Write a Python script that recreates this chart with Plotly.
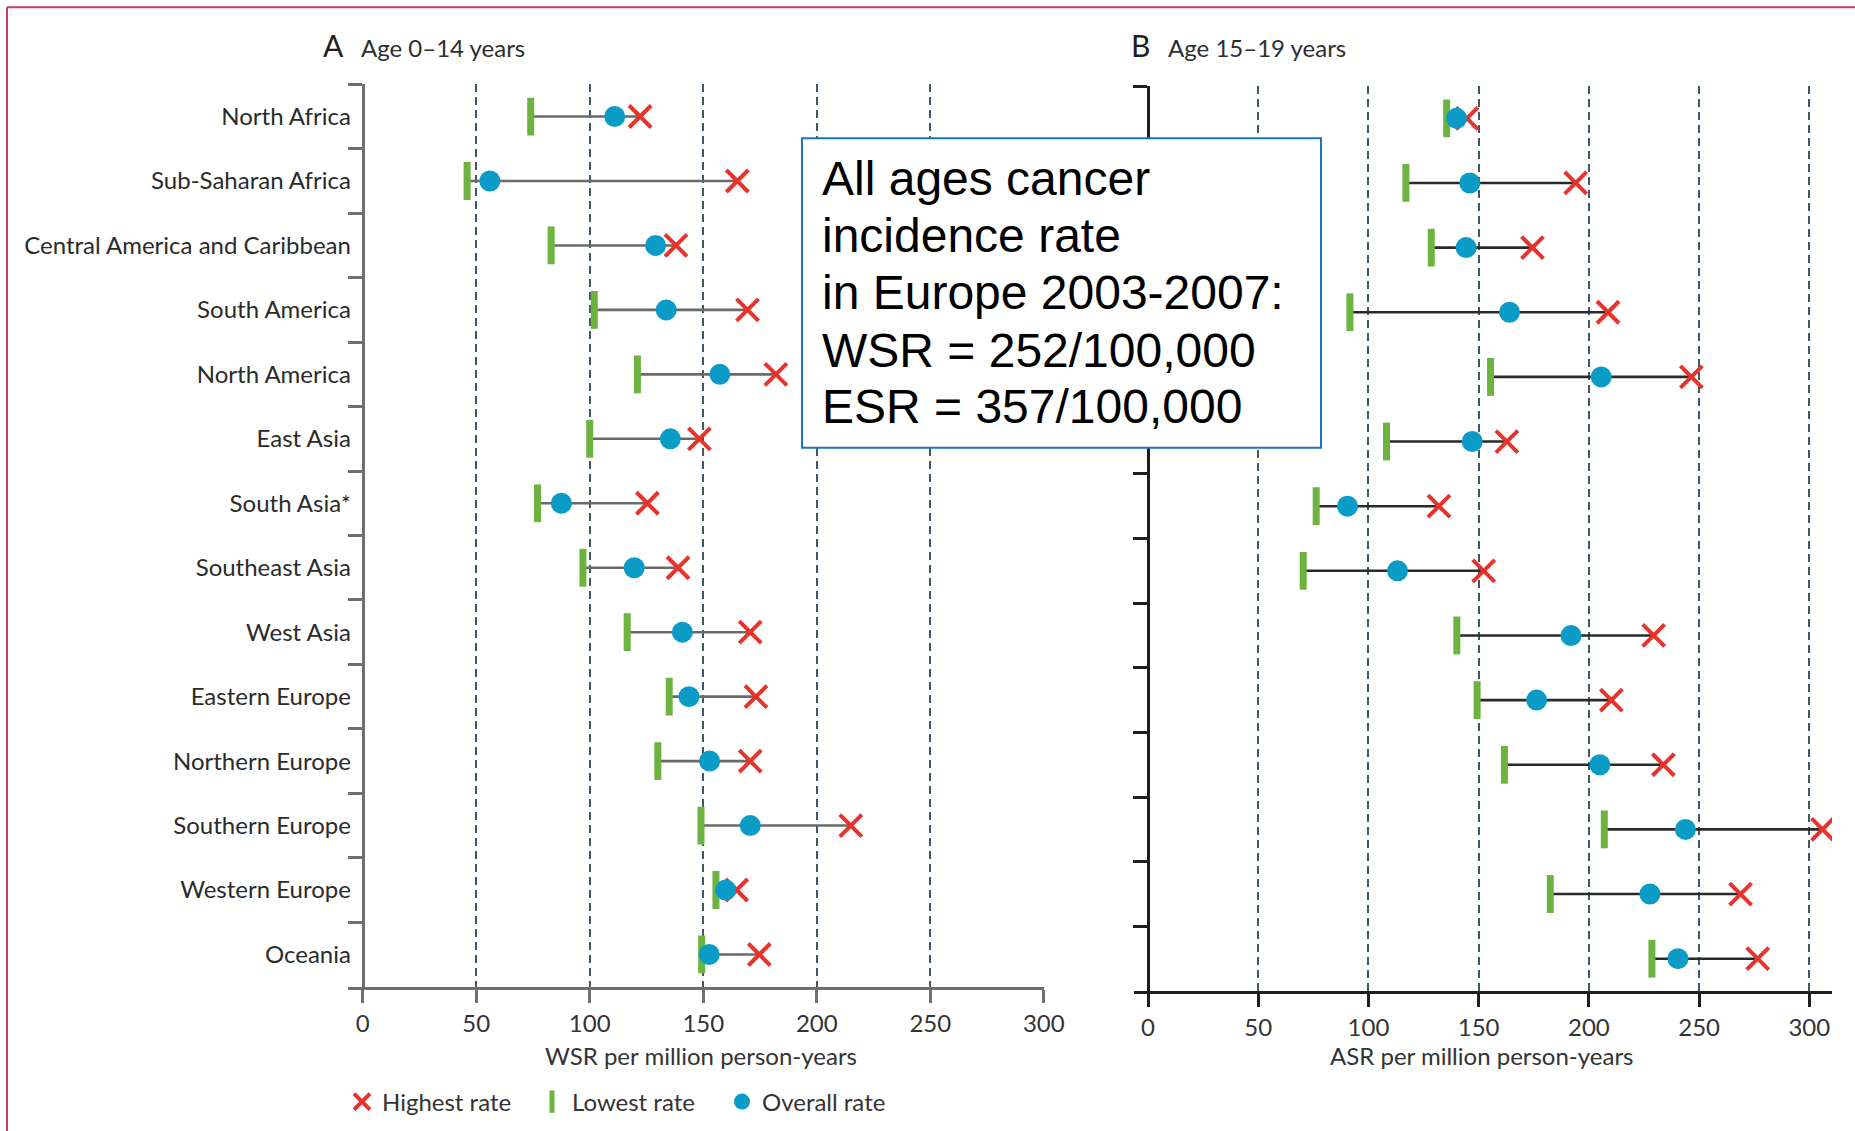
import plotly.graph_objects as go

W, H = 1855, 1131

regions = ["North Africa", "Sub-Saharan Africa", "Central America and Caribbean",
           "South America", "North America", "East Asia", "South Asia*",
           "Southeast Asia", "West Asia", "Eastern Europe", "Northern Europe",
           "Southern Europe", "Western Europe", "Oceania"]

# Panel A: age 0-14 years (WSR per million person-years)
a_lowest = [74, 46, 83, 102, 121, 100, 77, 97, 116.5, 135, 130, 149, 155.6, 149.3]
a_overall = [111, 56, 129, 133.7, 157.3, 135.5, 87.5, 119.6, 140.8, 143.7, 152.8, 170.7, 159.9, 152.6]
a_highest = [122.2, 165, 138, 169.5, 182, 148.3, 125.4, 138.9, 170.7, 173.2, 170.7, 215, 164.7, 174.7]

# Panel B: age 15-19 years (ASR per million person-years)
b_lowest = [135.5, 117, 128.5, 91.6, 155.4, 108.2, 76.3, 70.4, 140.1, 149.3, 161.7, 207, 182.5, 228.6]
b_overall = [140, 146, 144.3, 164, 205.6, 147.1, 90.5, 113.2, 191.9, 176.3, 205, 243.8, 227.7, 240.4]
b_highest = [144.7, 194, 174.4, 208.7, 246.5, 162.8, 132, 152.3, 229.4, 210.2, 233.8, 306, 268.8, 276.6]

x_ticks = [0, 50, 100, 150, 200, 250, 300]

RED = "#e8322b"
GREEN = "#6cb33f"
BLUE = "#0a9cc6"
FONT = "Lato"

fig = go.Figure()


def add_panel(lo, ov, hi, xa, ya, line_col, show):
    xs, ys = [], []
    for r, l, h in zip(regions, lo, hi):
        xs += [l, h, None]
        ys += [r, r, None]
    fig.add_trace(go.Scatter(x=xs, y=ys, mode="lines", xaxis=xa, yaxis=ya,
                             line=dict(color=line_col, width=2.6),
                             showlegend=False, hoverinfo="skip"))
    fig.add_trace(go.Scatter(x=hi, y=regions, mode="markers", xaxis=xa, yaxis=ya,
                             name="Highest rate", legendgroup="hi", showlegend=show,
                             marker=dict(symbol="x-thin", size=22, color=RED,
                                         line=dict(color=RED, width=4))))
    fig.add_trace(go.Scatter(x=lo, y=regions, mode="markers", xaxis=xa, yaxis=ya,
                             name="Lowest rate", legendgroup="lo", showlegend=show,
                             marker=dict(symbol="line-ns", size=27, color=GREEN,
                                         line=dict(color=GREEN, width=7))))
    fig.add_trace(go.Scatter(x=ov, y=regions, mode="markers", xaxis=xa, yaxis=ya,
                             name="Overall rate", legendgroup="ov", showlegend=show,
                             marker=dict(symbol="circle", size=21, color=BLUE,
                                         line=dict(width=0))))


add_panel(a_lowest, a_overall, a_highest, "x", "y", "#6a6a6a", True)
add_panel(b_lowest, b_overall, b_highest, "x2", "y2", "#2a2a2a", False)

GRID = "#3e5866"
A_AX = "#6f6f6f"
B_AX = "#1e1e1e"

xcommon = dict(tickvals=x_ticks, showgrid=True, gridcolor=GRID, griddash="8px,5px",
               gridwidth=2, showline=True, linewidth=3, ticks="outside", ticklen=13,
               tickwidth=2.5, zeroline=False, fixedrange=True, automargin=False,
               tickfont=dict(family=FONT, size=24, color="#333333"))
ycommon = dict(type="category", categoryorder="array", categoryarray=regions,
               range=[len(regions) - 0.5, -0.5], tickson="boundaries", ticks="outside",
               showline=True, linewidth=3, tickwidth=2.5, showgrid=False,
               zeroline=False, anchor="free", fixedrange=True, automargin=False)

a_y0, a_y1 = 84.3, 986.7
b_y0, b_y1 = 86.0, 991.0
a_x0, a_xz, a_x300 = 348.0, 362.7, 1043.8
b_x0, b_xz, b_xend = 1133.7, 1148.0, 1832.0
a_scale = (a_x300 - a_xz) / 300.0
b_scale = (1809.3 - b_xz) / 300.0

fig.update_layout(
    xaxis=dict(domain=[a_x0 / W, a_x300 / W],
               range=[-(a_xz - a_x0) / a_scale, 300], anchor="y",
               linecolor=A_AX, tickcolor=A_AX, **xcommon),
    yaxis=dict(domain=[1 - a_y1 / H, 1 - a_y0 / H], position=a_xz / W,
               linecolor=A_AX, tickcolor=A_AX, ticklen=14, ticklabelstandoff=6,
               tickfont=dict(family=FONT, size=24, color="#2b2b2b"), **ycommon),
    xaxis2=dict(domain=[b_x0 / W, b_xend / W],
                range=[-(b_xz - b_x0) / b_scale, (b_xend - b_xz) / b_scale], anchor="y2",
                linecolor=B_AX, tickcolor=B_AX, **xcommon),
    yaxis2=dict(domain=[1 - b_y1 / H, 1 - b_y0 / H], position=b_xz / W,
                linecolor=B_AX, tickcolor=B_AX, ticklen=14, showticklabels=False,
                **ycommon),
)

annotations = []
# panel titles
annotations.append(dict(xref="paper", yref="paper", x=321 / W, y=1 - 45 / H,
                        xanchor="left", yanchor="middle", showarrow=False,
                        text="<span style='font-size:30px;color:#1e1e1e'>A</span>&nbsp;&nbsp;&nbsp;Age 0–14 years",
                        font=dict(family=FONT, size=24, color="#2e2e2e")))
annotations.append(dict(xref="paper", yref="paper", x=1129 / W, y=1 - 45 / H,
                        xanchor="left", yanchor="middle", showarrow=False,
                        text="<span style='font-size:30px;color:#1e1e1e'>B</span>&nbsp;&nbsp;&nbsp;Age 15–19 years",
                        font=dict(family=FONT, size=24, color="#2e2e2e")))
# axis titles
annotations.append(dict(xref="paper", yref="paper", x=701 / W, y=1 - 1055 / H,
                        xanchor="center", yanchor="middle", showarrow=False,
                        text="WSR per million person-years",
                        font=dict(family=FONT, size=24, color="#333333")))
annotations.append(dict(xref="paper", yref="paper", x=1481 / W, y=1 - 1055 / H,
                        xanchor="center", yanchor="middle", showarrow=False,
                        text="ASR per million person-years",
                        font=dict(family=FONT, size=24, color="#333333")))

box_lines = ["All ages cancer", "incidence rate", "in Europe 2003-2007:",
             "WSR = 252/100,000", "ESR = 357/100,000"]
baselines = [195, 251.7, 309.3, 366.7, 422.7]
BOX_FS = 48
for t, b in zip(box_lines, baselines):
    annotations.append(dict(xref="paper", yref="paper", x=820 / W,
                            y=1 - (b - 0.3465 * BOX_FS) / H,
                            xanchor="left", yanchor="middle", showarrow=False,
                            text=t, font=dict(family="Liberation Sans, Arial", size=BOX_FS,
                                              color="#000000")))

shapes = [
    dict(type="rect", xref="paper", yref="paper", layer="above",
         x0=802 / W, x1=1321 / W, y0=1 - 447.7 / H, y1=1 - 138.3 / H,
         line=dict(color="#1a73c4", width=2), fillcolor="white"),
    dict(type="line", xref="paper", yref="paper", x0=7 / W, x1=1.01, y0=1 - 7.3 / H,
         y1=1 - 7.3 / H, line=dict(color="#cc3a62", width=2)),
    dict(type="line", xref="paper", yref="paper", x0=7 / W, x1=7 / W, y0=1 - 7.3 / H,
         y1=-0.01, line=dict(color="#cc3a62", width=2)),
]

fig.update_layout(
    width=W, height=H, margin=dict(l=0, r=0, t=0, b=0, autoexpand=False),
    paper_bgcolor="white", plot_bgcolor="rgba(0,0,0,0)",
    annotations=annotations, shapes=shapes,
    legend=dict(orientation="h", x=342 / W, y=1 - 1102 / H, xanchor="left",
                yanchor="middle", entrywidth=145, entrywidthmode="pixels",
                font=dict(family=FONT, size=24, color="#333333"),
                bgcolor="rgba(0,0,0,0)", itemsizing="trace"),
    font=dict(family=FONT),
)

fig.write_html("out.html")
